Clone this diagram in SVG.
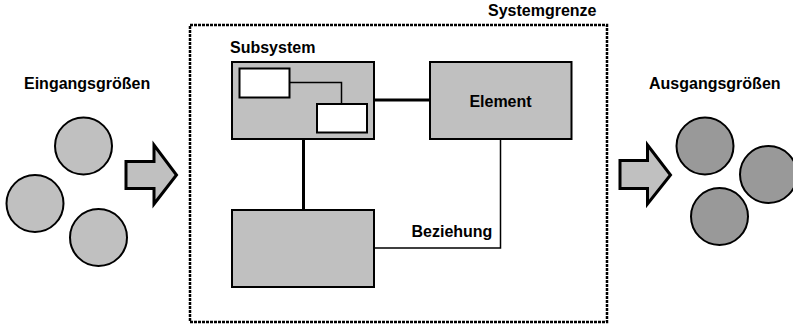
<svg xmlns="http://www.w3.org/2000/svg" width="793" height="325" viewBox="0 0 793 325">
<style>
text{font-family:"Liberation Sans",Arial,sans-serif;font-weight:bold;font-size:16px;fill:#000}
.box{fill:#c0c0c0;stroke:#000;stroke-width:2}
.inner{fill:#fff;stroke:#000;stroke-width:2}
.in{fill:#c0c0c0;stroke:#000;stroke-width:2}
.out{fill:#999;stroke:#000;stroke-width:2}
.arrow{fill:#c0c0c0;stroke:#000;stroke-width:3;stroke-linejoin:miter}
.thick{stroke:#000;stroke-width:3;fill:none}
.thin{stroke:#000;stroke-width:1.5;fill:none}
</style>
<rect width="793" height="325" fill="#fff"/>
<g id="boundary">
<rect x="190" y="25" width="417" height="297" fill="none" stroke="#000" stroke-width="2.5" stroke-dasharray="3 1"/>
<text x="488" y="16">Systemgrenze</text>
</g>
<g id="inputs">
<text x="24" y="89">Eingangsgrößen</text>
<circle class="in" cx="83.5" cy="146" r="28.5"/>
<circle class="in" cx="35" cy="203.5" r="28.5"/>
<circle class="in" cx="98.5" cy="237.5" r="28.5"/>
</g>
<g id="arrow-in">
<polygon class="arrow" points="126,161.5 154,161.5 154,145 176.5,175 154,204 154,188.5 126,188.5"/>
</g>
<g id="outputs">
<text x="649" y="89">Ausgangsgrößen</text>
<circle class="out" cx="705" cy="146" r="28.5"/>
<circle class="out" cx="768.5" cy="174.5" r="28.5"/>
<circle class="out" cx="719.5" cy="216.5" r="28.5"/>
</g>
<g id="arrow-out">
<polygon class="arrow" points="620,160.5 647.5,160.5 647.5,145 670.5,175 647.5,204 647.5,188.5 620,188.5"/>
</g>
<g id="connectors">
<line class="thick" x1="374" y1="100" x2="430" y2="100"/>
<line class="thick" x1="303.5" y1="139" x2="303.5" y2="210"/>
<polyline class="thin" points="500.5,139 500.5,248 374,248"/>
</g>
<g id="subsystem">
<text x="230" y="53">Subsystem</text>
<rect class="box" x="232" y="62" width="142" height="77"/>
<polyline class="thin" points="289,82.5 341.5,82.5 341.5,104"/>
<rect class="inner" x="239.5" y="68.5" width="50" height="29"/>
<rect class="inner" x="317" y="104" width="50" height="28.5"/>
</g>
<g id="element">
<rect class="box" x="430" y="62" width="141.5" height="77"/>
<text x="500.5" y="107" text-anchor="middle">Element</text>
</g>
<g id="lower">
<rect class="box" x="232" y="210" width="142" height="77"/>
</g>
<text x="411.5" y="237">Beziehung</text>
</svg>
